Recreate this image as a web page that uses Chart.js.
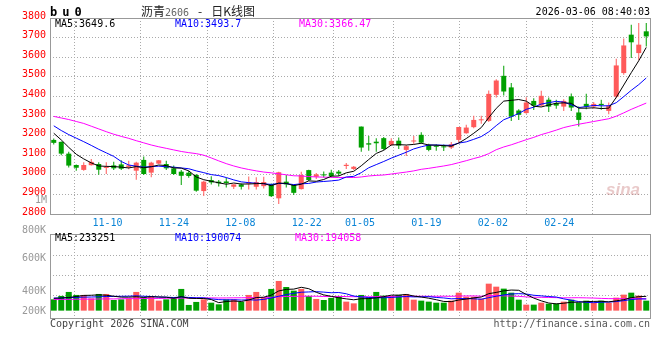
<!DOCTYPE html>
<html>
<head>
<meta charset="utf-8">
<script src="https://cdn.jsdelivr.net/npm/chart.js@4.4.1/dist/chart.umd.min.js"></script>
<style>
  body { margin: 0; background: #fff; width: 660px; height: 360px; position: relative; overflow: hidden;
         font-family: "DejaVu Sans Mono", monospace; font-size: 10px; }
  canvas { position: absolute; left: 0; }
  #price { top: 0; }
  #volume { top: 226px; }
  .t { position: absolute; white-space: pre; line-height: 12px; }
  .r { text-align: right; }
  .gray { color: #999; }
</style>
</head>
<body>
<canvas id="price" width="660" height="232"></canvas>
<canvas id="volume" width="660" height="134"></canvas>

<div class="t" style="left:50px;top:6px;font-weight:bold;font-size:12px;letter-spacing:5px">bu0</div>
<div class="t" style="left:141px;top:5px;font-family:'Noto Sans CJK SC';font-size:12px;color:#222">沥青<span style="font-family:'DejaVu Sans Mono';font-size:10px;color:#666">2606</span><span style="margin:0 9px">-</span>日K线图</div>
<div class="t r" style="right:10px;top:6px;color:#000">2026-03-06 08:40:03</div>

<div class="t" style="left:55px;top:18px;color:#000">MA5:3649.6</div>
<div class="t" style="left:175px;top:18px;color:#0000ff">MA10:3493.7</div>
<div class="t" style="left:299px;top:18px;color:#ff00ff">MA30:3366.47</div>

<div class="t" style="left:55px;top:232px;color:#000">MA5:233251</div>
<div class="t" style="left:175px;top:232px;color:#0000ff">MA10:190074</div>
<div class="t" style="left:295px;top:232px;color:#ff00ff">MA30:194058</div>

<div class="t r gray" style="right:613px;top:194px">1M</div>
<div class="t r gray" style="right:614px;top:224px">800K</div>
<div class="t r gray" style="right:614px;top:252px">600K</div>
<div class="t r gray" style="right:614px;top:285px">400K</div>
<div class="t r gray" style="right:614px;top:305px">200K</div>

<div class="t" style="left:50px;top:318px;color:#444">Copyright 2026 SINA.COM</div>
<div class="t r" style="right:10px;top:318px;color:#555">http://finance.sina.com.cn</div>
<div class="t" style="left:606px;top:184px;font-family:'Liberation Sans';font-style:italic;font-weight:bold;font-size:17px;color:rgba(200,120,120,0.4)">sina</div>

<script>
// trading days, 2025-11-05 .. 2026-03-06
const dates = [
  '11-05','11-06','11-07','11-10','11-11','11-12','11-13','11-14','11-17','11-18',
  '11-19','11-20','11-21','11-24','11-25','11-26','11-27','11-28','12-01','12-02',
  '12-03','12-04','12-05','12-08','12-09','12-10','12-11','12-12','12-15','12-16',
  '12-17','12-18','12-19','12-22','12-23','12-24','12-25','12-26','12-29','12-30',
  '12-31','01-05','01-06','01-07','01-08','01-09','01-12','01-13','01-14','01-15',
  '01-16','01-19','01-20','01-21','01-22','01-23','01-26','01-27','01-28','01-29',
  '01-30','02-02','02-03','02-04','02-05','02-06','02-09','02-10','02-11','02-12',
  '02-13','02-24','02-25','02-26','02-27','03-02','03-03','03-04','03-05','03-06'
];
const tickDates = ['11-10','11-24','12-08','12-22','01-05','01-19','02-02','02-24'];

const opens = [
  3178,3168,3108,3050,3025,3049,3055,3035,3048,3053, 3040,3021,3076,3011,3057,3055,3033,3016,3011,2999,
  2917,2973,2965,2966,2939,2951,2955,2939,2942,2953, 2880,2965,2948,2927,3024,2990,3000,3011,3016,3045,
  3030,3246,3161,3169,3187,3152,3174,3127,3170,3204, 3152,3148,3145,3139,3178,3212,3243,3278,3275,3408,
  3505,3446,3328,3315,3377,3353,3383,3366,3348,3400, 3318,3362,3348,3362,3326,3399,3519,3715,3621,3732
];
const highs = [
  3185,3170,3118,3052,3064,3081,3064,3064,3067,3074, 3072,3067,3093,3067,3076,3072,3047,3025,3021,3004,
  2970,2993,2973,2985,2952,2956,2991,2987,2990,2956, 3016,2999,2950,3016,3026,3009,3017,3026,3024,3060,
  3045,3246,3198,3187,3193,3187,3190,3152,3198,3217, 3159,3156,3155,3167,3244,3255,3301,3301,3430,3488,
  3557,3468,3335,3396,3390,3429,3395,3383,3386,3415, 3348,3413,3372,3383,3369,3592,3695,3766,3775,3775
];
const lows = [
  3155,3100,3037,3021,3021,3048,3000,3004,3025,3025, 3028,2975,2999,2987,3055,3025,2999,2948,2985,2914,
  2892,2950,2940,2935,2927,2925,2925,2925,2930,2887, 2851,2935,2897,2925,2968,2979,2986,2986,2994,3030,
  3024,3118,3123,3118,3127,3148,3132,3096,3159,3159, 3120,3123,3122,3132,3165,3209,3237,3260,3270,3394,
  3405,3275,3280,3311,3330,3348,3320,3337,3325,3325, 3246,3335,3337,3332,3309,3391,3510,3596,3584,3655
];
const closes = [
  3163,3108,3047,3036,3050,3066,3026,3037,3033,3031, 3048,3062,3004,3062,3074,3033,3004,2995,2994,2919,
  2965,2961,2957,2958,2951,2939,2962,2963,2963,2891, 3013,2951,2908,2999,2973,3002,2997,2994,3006,3051,
  3041,3139,3154,3161,3132,3173,3149,3146,3173,3164, 3127,3143,3140,3156,3244,3241,3280,3282,3413,3481,
  3425,3297,3306,3369,3353,3403,3348,3353,3377,3343, 3280,3348,3362,3356,3353,3558,3660,3676,3664,3706
];
const ma5 = [
  3212,3178,3140,3105,3081,3061,3045,3043,3042,3039, 3035,3042,3036,3041,3050,3047,3035,3034,3020,2989,
  2975,2967,2959,2952,2958,2953,2953,2955,2956,2944, 2958,2956,2945,2952,2969,2967,2976,2993,2994,3010,
  3018,3046,3078,3109,3125,3152,3154,3152,3155,3161, 3152,3151,3149,3146,3162,3185,3212,3241,3292,3339,
  3376,3380,3384,3376,3350,3346,3356,3365,3367,3365, 3340,3340,3342,3338,3340,3395,3458,3521,3582,3650
];
const ma10 = [
  3250,3226,3205,3187,3169,3150,3130,3112,3094,3068, 3050,3044,3039,3042,3044,3041,3039,3035,3031,3020,
  3011,3001,2996,2986,2974,2964,2960,2957,2954,2951, 2956,2955,2950,2954,2956,2963,2966,2969,2973,2989,
  2992,3011,3036,3052,3068,3085,3100,3115,3132,3143, 3152,3152,3151,3150,3162,3168,3181,3195,3219,3251,
  3281,3296,3313,3334,3345,3361,3368,3375,3371,3357, 3343,3348,3354,3352,3352,3368,3399,3431,3460,3494
];
const ma30 = [
  3298,3290,3282,3272,3262,3248,3234,3220,3207,3196, 3186,3174,3163,3152,3143,3135,3127,3119,3113,3108,
  3100,3086,3071,3057,3045,3035,3027,3020,3014,3010, 3005,3000,2995,2994,2991,2989,2988,2987,2986,2987,
  2986,2989,2994,2997,2999,3004,3009,3014,3020,3028, 3033,3039,3045,3052,3062,3072,3083,3093,3108,3128,
  3142,3153,3166,3179,3191,3205,3216,3228,3241,3250, 3258,3265,3272,3279,3286,3299,3316,3334,3350,3366
];

const volumes = [
  184000,240000,305000,256000,256000,200000,272000,272000,174000,184000,
  200000,305000,217000,228000,163000,184000,217000,354000,93000,142000,
  184000,130000,103000,184000,184000,142000,256000,305000,207000,354000,
  484000,386000,326000,354000,240000,191000,174000,207000,240000,147000,
  119000,256000,217000,305000,245000,240000,256000,272000,179000,163000,
  147000,130000,130000,163000,293000,228000,228000,196000,440000,391000,
  359000,293000,179000,98000,98000,130000,114000,114000,147000,179000,
  130000,163000,130000,163000,130000,212000,261000,293000,245000,163000
];
const volMa5 = [
  200000,205000,215000,230000,248000,251000,258000,251000,235000,220000,
  220000,227000,216000,227000,223000,219000,202000,229000,202000,198000,
  198000,181000,130000,149000,157000,149000,174000,214000,219000,253000,
  321000,347000,351000,381000,358000,299000,257000,233000,210000,192000,
  177000,194000,196000,209000,228000,253000,253000,264000,238000,222000,
  203000,178000,150000,147000,173000,189000,208000,222000,277000,297000,
  323000,336000,332000,264000,205000,160000,124000,111000,121000,137000,
  137000,147000,150000,153000,143000,160000,179000,212000,228000,233000
];
const volMa10 = [
  205000,208000,212000,216000,220000,222000,226000,230000,232000,234000,
  236000,242000,234000,231000,222000,220000,214000,223000,215000,210000,
  209000,191000,180000,175000,178000,173000,177000,172000,184000,205000,
  235000,261000,283000,300000,305000,310000,302000,292000,296000,275000,
  238000,225000,215000,210000,210000,215000,223000,230000,224000,225000,
  228000,215000,207000,193000,197000,196000,193000,186000,212000,235000,
  256000,272000,277000,271000,251000,241000,230000,222000,192000,171000,
  148000,135000,130000,137000,140000,148000,163000,181000,191000,190000
];
const volMa30 = [
  182000,184000,183000,186000,188000,187000,190000,192000,191000,194000,
  196000,195000,198000,200000,199000,202000,204000,203000,206000,207000,
  205000,208000,206000,207000,209000,210000,212000,213000,215000,217000,
  227000,231000,232000,235000,235000,235000,231000,229000,231000,230000,
  227000,226000,226000,228000,231000,233000,234000,231000,234000,235000,
  234000,234000,235000,234000,238000,240000,240000,236000,244000,245000,
  241000,238000,233000,224000,219000,217000,215000,212000,209000,210000,
  211000,208000,205000,200000,196000,195000,195000,196000,196000,194000
];
const volGridTicks = [249000, 575000, 901000];

const UP = '#ff5a5a', DOWN = '#00a000';
const candleColors = closes.map((c, i) => c >= opens[i] ? UP : DOWN);
const mono = { family: 'DejaVu Sans Mono', size: 10 };
const gridGray = '#aaaaaa';

const framePlugin = {
  id: 'frame',
  afterDraw(chart) {
    const { ctx, chartArea: a } = chart;
    ctx.save();
    ctx.strokeStyle = '#999';
    ctx.lineWidth = 1;
    ctx.strokeRect(Math.round(a.left) + 0.5, Math.round(a.top) + 0.5,
                   Math.round(a.right - a.left), Math.round(a.bottom - a.top));
    ctx.restore();
  }
};

function maLine(data, color) {
  return { type: 'line', data: data, borderColor: color, borderWidth: 1,
           pointRadius: 0, tension: 0, order: 0 };
}

function gridAxis(showLabels) {
  return {
    type: 'linear', position: 'bottom', min: 0, max: dates.length - 1,
    afterBuildTicks: s => { s.ticks = tickDates.map(d => ({ value: dates.indexOf(d) })); },
    afterFit: s => { s.height = showLabels ? 14 : 0; },
    ticks: { display: showLabels, callback: v => dates[v], color: '#0a84d6', font: mono,
             padding: 3, maxRotation: 0, autoSkip: false },
    grid: { color: gridGray, drawTicks: false },
    border: { display: false, dash: [1, 2] }
  };
}

new Chart(document.getElementById('price'), {
  type: 'bar',
  data: {
    labels: dates,
    datasets: [
      maLine(ma5, '#000000'),
      maLine(ma10, '#0000ff'),
      maLine(ma30, '#ff00ff'),
      { data: dates.map((d, i) => [opens[i], closes[i]]), backgroundColor: candleColors,
        barThickness: 5, minBarLength: 1, grouped: false, inflateAmount: 0, order: 1 },
      { data: dates.map((d, i) => [lows[i], highs[i]]), backgroundColor: candleColors,
        barThickness: 1, grouped: false, inflateAmount: 0, order: 2 }
    ]
  },
  options: {
    responsive: false, animation: false, events: [],
    layout: { padding: { top: 18, right: 10, bottom: 4, left: 0 } },
    plugins: { legend: { display: false }, tooltip: { enabled: false } },
    scales: {
      x: { type: 'category', display: false, offset: true },
      xg: gridAxis(true),
      y: {
        min: 2800, max: 3800,
        afterFit: s => { s.width = 50; },
        ticks: { stepSize: 100, color: '#ff0000', font: mono, padding: 4, labelOffset: -2,
                 callback: v => String(v) },
        grid: { drawTicks: false,
                color: c => (c.tick.value === 2800 || c.tick.value === 3800) ? 'rgba(0,0,0,0)' : gridGray },
        border: { display: false, dash: [1, 2] }
      }
    }
  },
  plugins: [framePlugin]
});

new Chart(document.getElementById('volume'), {
  type: 'bar',
  data: {
    labels: dates,
    datasets: [
      maLine(volMa5, '#000000'),
      maLine(volMa10, '#0000ff'),
      maLine(volMa30, '#ff00ff'),
      { data: volumes, backgroundColor: candleColors, barThickness: 6, inflateAmount: 0, order: 1 }
    ]
  },
  options: {
    responsive: false, animation: false, events: [],
    layout: { padding: { top: 8, right: 10, bottom: 42, left: 0 } },
    plugins: { legend: { display: false }, tooltip: { enabled: false } },
    scales: {
      x: { type: 'category', display: false, offset: true },
      xg: gridAxis(false),
      y: {
        min: -120000, max: 1250000,
        afterFit: s => { s.width = 50; },
        afterBuildTicks: s => { s.ticks = volGridTicks.map(v => ({ value: v })); },
        ticks: { display: false },
        grid: { color: gridGray, drawTicks: false },
        border: { display: false, dash: [1, 2] }
      }
    }
  },
  plugins: [framePlugin]
});
</script>
</body>
</html>
